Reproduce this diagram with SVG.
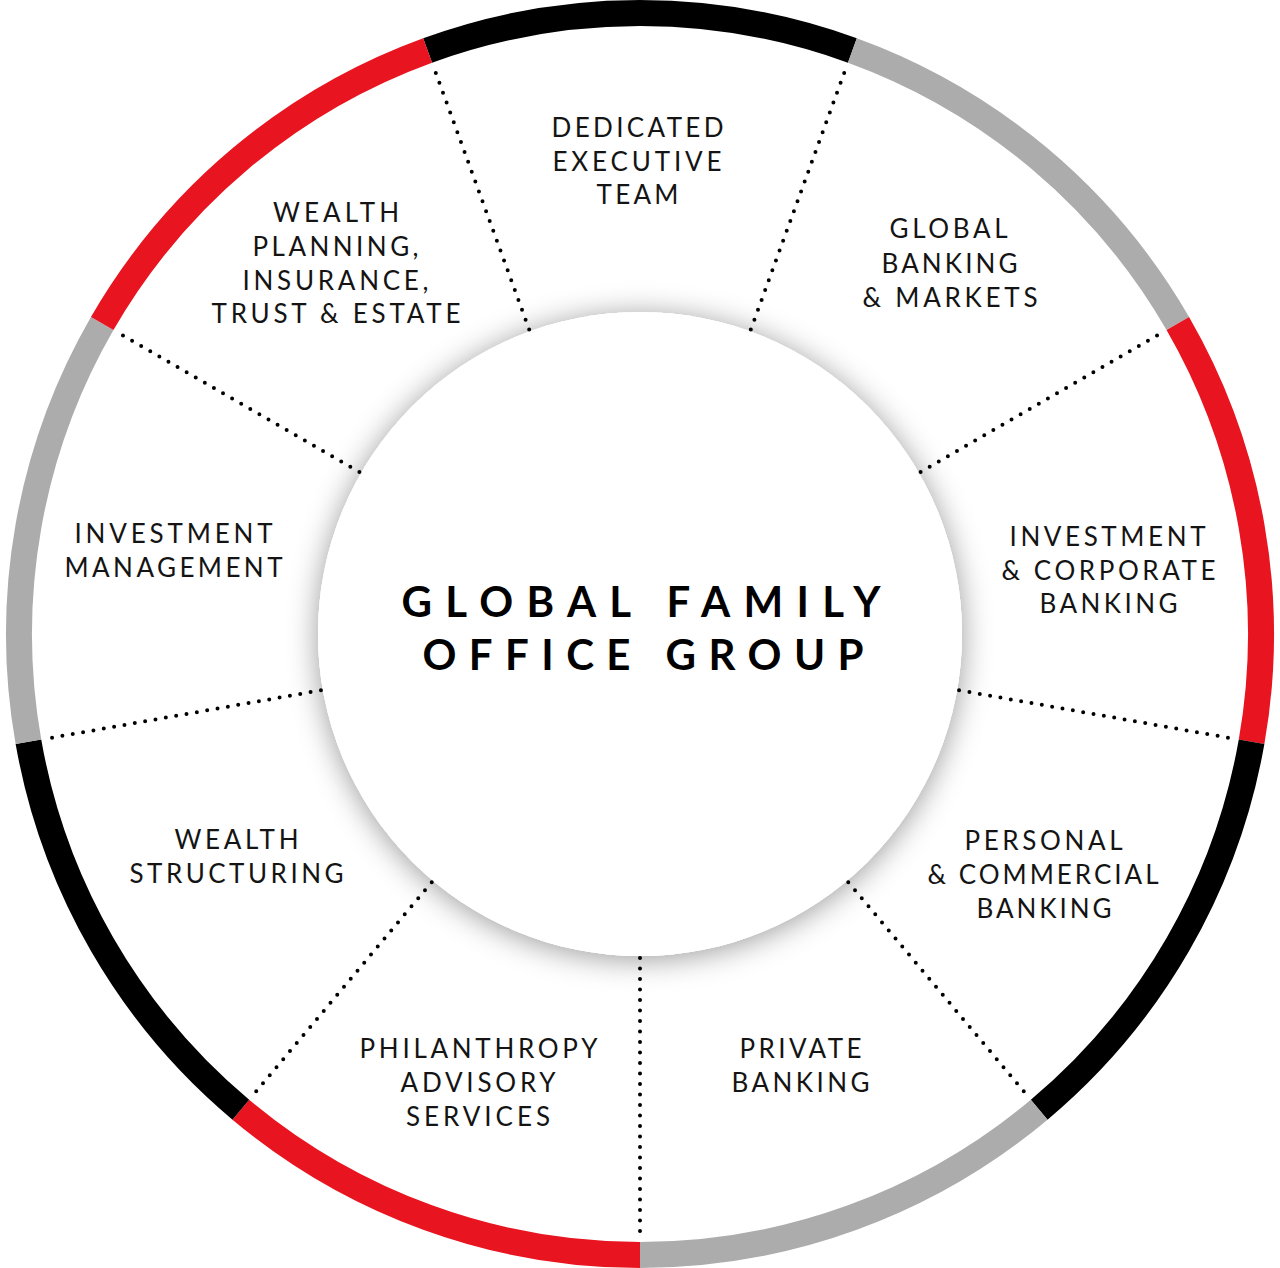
<svg xmlns="http://www.w3.org/2000/svg" width="1280" height="1268" viewBox="0 0 1280 1268">
<defs>
<filter id="shadow" x="-30%" y="-30%" width="160%" height="160%">
<feDropShadow dx="0" dy="3" stdDeviation="15" flood-color="#000" flood-opacity="0.4"/>
</filter>
<style>
.ring{fill:none;stroke-width:26;stroke-linecap:butt}
.blk{stroke:#000}
.gry{stroke:#acacac}
.red{stroke:#e8141f}
.div{stroke:#000;stroke-width:4;stroke-linecap:round;stroke-dasharray:0 10.5;fill:none}
.lbl{font-family:Lato,"Open Sans","Liberation Sans",sans-serif;font-size:26px;fill:#141414;text-anchor:middle}
.ttl{font-family:Lato,"Open Sans","Liberation Sans",sans-serif;font-size:42px;font-weight:700;fill:#000;text-anchor:middle}
</style>
</defs>
<rect width="1280" height="1268" fill="#fff"/>
<g id="hub">
<circle cx="640" cy="634" r="322" fill="#fff" filter="url(#shadow)"/>
<circle cx="640" cy="634" r="322" fill="#fff"/>
<text class="ttl" x="641" y="617" textLength="479" lengthAdjust="spacing">GLOBAL FAMILY</text>
<text class="ttl" x="643" y="670" textLength="441" lengthAdjust="spacing">OFFICE GROUP</text>
</g>
<g id="connectors">
<line class="div" x1="529.19" y1="329.54" x2="433.08" y2="65.49"/>
<line class="div" x1="750.81" y1="329.54" x2="846.92" y2="65.49"/>
<line class="div" x1="920.59" y1="472" x2="1163.95" y2="331.5"/>
<line class="div" x1="959.08" y1="690.26" x2="1235.81" y2="739.06"/>
<line class="div" x1="848.26" y1="882.2" x2="1028.89" y2="1097.45"/>
<line class="div" x1="640" y1="958" x2="640" y2="1239"/>
<line class="div" x1="431.74" y1="882.2" x2="251.11" y2="1097.45"/>
<line class="div" x1="320.92" y1="690.26" x2="44.19" y2="739.06"/>
<line class="div" x1="359.41" y1="472" x2="116.05" y2="331.5"/>
</g>
<g id="ring">
<path class="ring blk" d="M427.61,50.45 A621,621 0 0 1 852.39,50.45"/>
<path class="ring gry" d="M852.39,50.45 A621,621 0 0 1 1177.8,323.5"/>
<path class="ring red" d="M1177.8,323.5 A621,621 0 0 1 1251.57,741.84"/>
<path class="ring blk" d="M1251.57,741.84 A621,621 0 0 1 1039.17,1109.71"/>
<path class="ring gry" d="M1039.17,1109.71 A621,621 0 0 1 640,1255"/>
<path class="ring red" d="M640,1255 A621,621 0 0 1 240.83,1109.71"/>
<path class="ring blk" d="M240.83,1109.71 A621,621 0 0 1 28.43,741.84"/>
<path class="ring gry" d="M28.43,741.84 A621,621 0 0 1 102.2,323.5"/>
<path class="ring red" d="M102.2,323.5 A621,621 0 0 1 427.61,50.45"/>
</g>
<g id="dedicated-executive-team">
<text class="lbl" x="637.5" y="137" textLength="172" lengthAdjust="spacing">DEDICATED</text>
<text class="lbl" x="637" y="171" textLength="169" lengthAdjust="spacing">EXECUTIVE</text>
<text class="lbl" x="637.5" y="204" textLength="82" lengthAdjust="spacing">TEAM</text>
</g>
<g id="global-banking-markets">
<text class="lbl" x="948.5" y="238" textLength="118" lengthAdjust="spacing">GLOBAL</text>
<text class="lbl" x="949.5" y="273" textLength="136" lengthAdjust="spacing">BANKING</text>
<text class="lbl" x="950" y="307" textLength="175" lengthAdjust="spacing">&amp; MARKETS</text>
</g>
<g id="investment-corporate-banking">
<text class="lbl" x="1107.5" y="546" textLength="196" lengthAdjust="spacing">INVESTMENT</text>
<text class="lbl" x="1108.5" y="580" textLength="214" lengthAdjust="spacing">&amp; CORPORATE</text>
<text class="lbl" x="1108.5" y="613" textLength="138" lengthAdjust="spacing">BANKING</text>
</g>
<g id="personal-commercial-banking">
<text class="lbl" x="1043.5" y="850" textLength="158" lengthAdjust="spacing">PERSONAL</text>
<text class="lbl" x="1043" y="884" textLength="231" lengthAdjust="spacing">&amp; COMMERCIAL</text>
<text class="lbl" x="1044" y="918" textLength="135" lengthAdjust="spacing">BANKING</text>
</g>
<g id="private-banking">
<text class="lbl" x="800.5" y="1058" textLength="122" lengthAdjust="spacing">PRIVATE</text>
<text class="lbl" x="800.5" y="1092" textLength="138" lengthAdjust="spacing">BANKING</text>
</g>
<g id="philanthropy-advisory-services">
<text class="lbl" x="478.5" y="1058" textLength="238" lengthAdjust="spacing">PHILANTHROPY</text>
<text class="lbl" x="478" y="1092" textLength="155" lengthAdjust="spacing">ADVISORY</text>
<text class="lbl" x="478" y="1126" textLength="144" lengthAdjust="spacing">SERVICES</text>
</g>
<g id="wealth-structuring">
<text class="lbl" x="236.5" y="849" textLength="124" lengthAdjust="spacing">WEALTH</text>
<text class="lbl" x="236.5" y="883" textLength="214" lengthAdjust="spacing">STRUCTURING</text>
</g>
<g id="investment-management">
<text class="lbl" x="173.5" y="543" textLength="198" lengthAdjust="spacing">INVESTMENT</text>
<text class="lbl" x="173.5" y="577" textLength="218" lengthAdjust="spacing">MANAGEMENT</text>
</g>
<g id="wealth-planning-insurance-trust-estate">
<text class="lbl" x="336" y="222" textLength="126" lengthAdjust="spacing">WEALTH</text>
<text class="lbl" x="335.5" y="256" textLength="166" lengthAdjust="spacing">PLANNING,</text>
<text class="lbl" x="335.5" y="290" textLength="186" lengthAdjust="spacing">INSURANCE,</text>
<text class="lbl" x="336" y="323" textLength="249" lengthAdjust="spacing">TRUST &amp; ESTATE</text>
</g>
</svg>
